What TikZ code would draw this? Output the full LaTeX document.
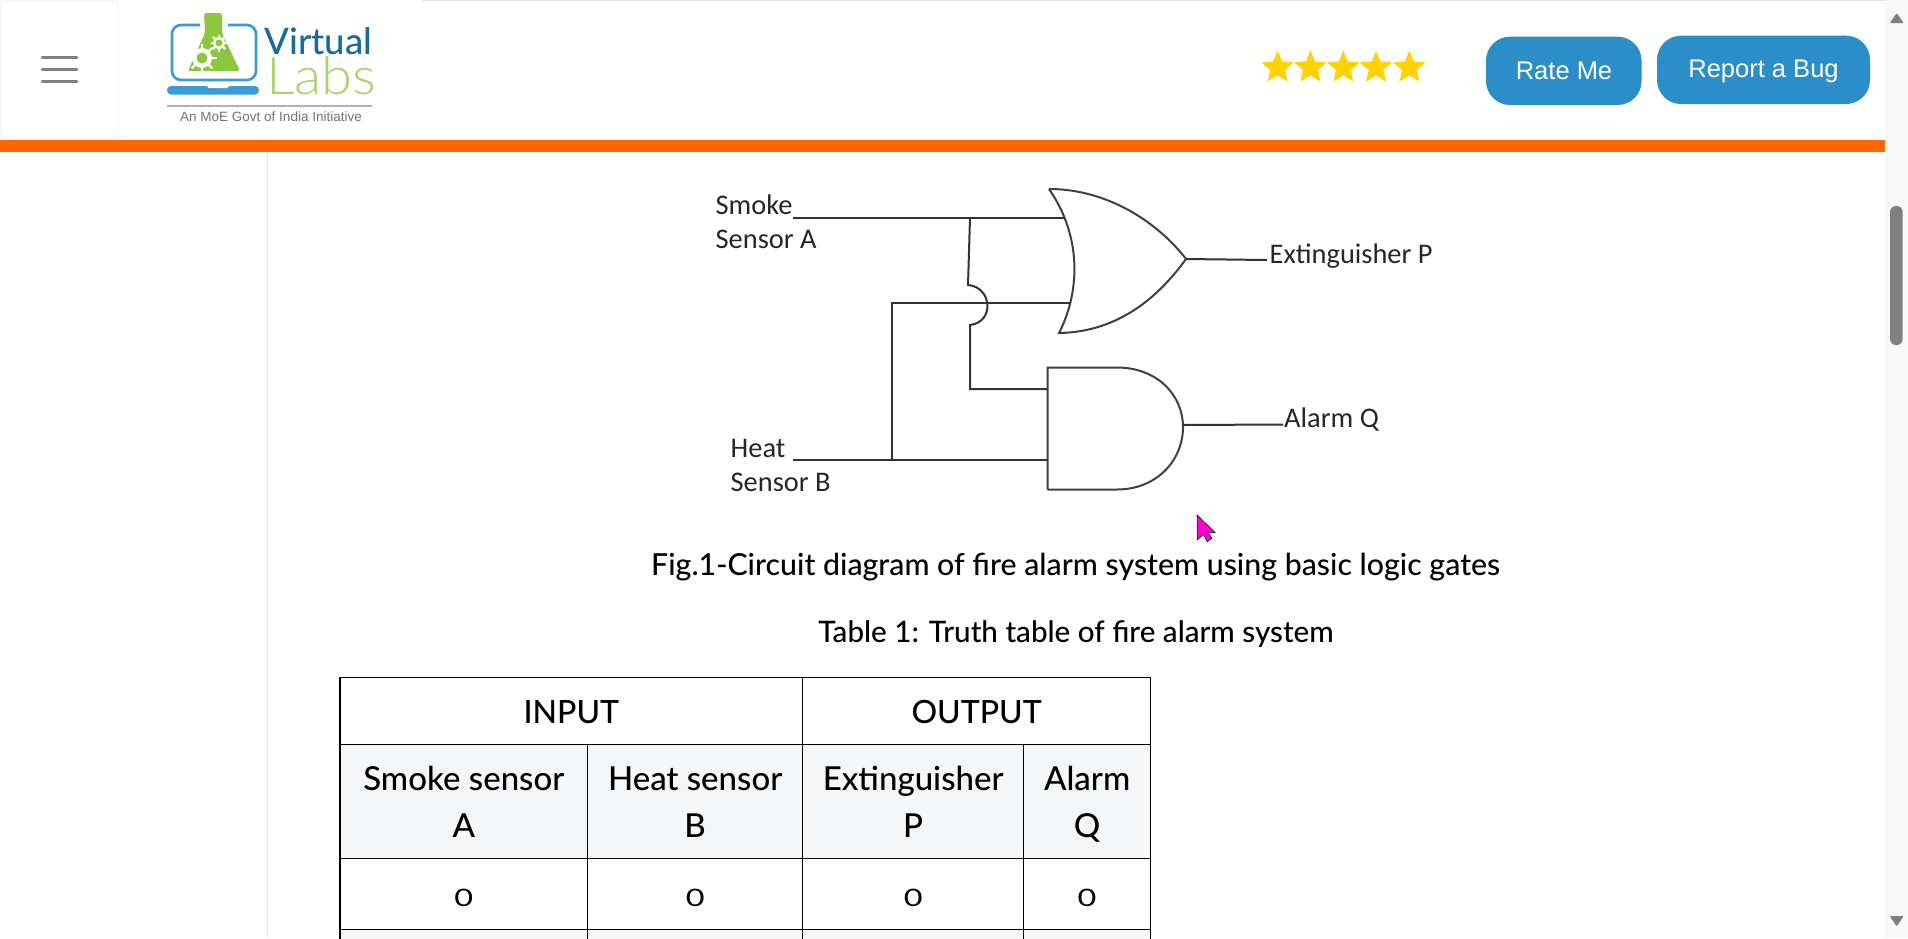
\documentclass[tikz,border=0pt]{standalone}
\usepackage{fontspec}
\setmainfont{Lato Medium}
\newfontfamily\schemfont{Carlito}
\newfontfamily\btnfont{Liberation Sans}
\newfontfamily\thinfont[FakeStretch=1.08]{Lato Light}
\newfontfamily\zerofont[FakeStretch=1.35]{Lato}
\usetikzlibrary{fit,positioning,calc,shapes.geometric}
\definecolor{barorange}{HTML}{FF6600}
\definecolor{btnblue}{HTML}{2B8EC8}
\definecolor{logoblue}{HTML}{3A9BD5}
\definecolor{logodark}{HTML}{1B6A9C}
\definecolor{logogreen}{HTML}{8DC63F}
\definecolor{logolight}{HTML}{A9D46F}
\definecolor{cellgray}{HTML}{F5F6F8}
\definecolor{rulegray}{HTML}{E2E2E2}
\definecolor{scrollgray}{HTML}{808080}
\definecolor{scrollbg}{HTML}{F8F8F8}
\definecolor{stargold}{HTML}{FFD200}
\definecolor{cursorpink}{HTML}{FF00D0}
\tikzset{
  wire/.style={line width=2pt,draw=black!80},
  gate/.style={line width=2pt,draw=black!75},
  schem/.style={inner sep=0pt,anchor=base west,font=\schemfont\fontsize{28.4}{28.4}\selectfont,text=black!85},
  cell/.style={inner sep=0pt,draw=black,line width=1.1pt},
  celltext/.style={align=center,inner sep=0pt,yshift=-1pt,font=\fontsize{33}{47}\selectfont},
  toptext/.style={inner sep=0pt,yshift=-1pt,font=\fontsize{32}{32}\selectfont},
  zerotext/.style={inner sep=0pt,yshift=-4.5pt,font=\zerofont\fontsize{24}{24}\selectfont},
  btn/.style={inner sep=0pt,fill=btnblue,rounded corners=24pt},
  btntext/.style={inner sep=0pt,anchor=base,text=white,font=\btnfont\fontsize{25.5}{25.5}\selectfont},
  burger/.style={line width=2.6pt,draw=scrollgray,line cap=round},
  arrowtri/.style={fill=scrollgray,rounded corners=1pt}
}
\begin{document}
\begin{tikzpicture}[x=1pt,y=-1pt]
  \useasboundingbox[fill=white] (0,0) rectangle (1908,938);

  \node[fit={(1885,0) (1908,938)}, inner sep=0pt, fill=scrollbg] (scrollbg) {};
  \node[fit={(1890,206) (1902.7,345)}, inner sep=0pt, fill=scrollgray, rounded corners=6pt] (thumb) {};
  \fill[arrowtri] (1896.7,13) -- (1903.7,23) -- (1889.7,23) -- cycle;
  \fill[arrowtri] (1896.7,926.5) -- (1903.7,916) -- (1889.7,916) -- cycle;

  \draw[rulegray,line width=1pt] (422,0.5) -- (1885,0.5);
  \node[fit={(0,140) (1885,152)}, inner sep=0pt, fill=barorange] (bar) {};
  \coordinate (railend) at (267,938);
  \draw[rulegray,line width=1pt] (267,152) -- (railend);

  \node[fit={(0.5,0.5) (118,139)}, inner sep=0pt, draw=rulegray, rounded corners=6pt] (menu) {};
  \foreach \i/\y in {a/57.5,b/69.5,c/81.5} {
    \coordinate (bar\i l) at (42,\y); \coordinate (bar\i r) at (77,\y);
    \draw[burger] (bar\i l) -- (bar\i r);
  }

  \draw[logoblue,line width=2.6pt,rounded corners=9pt] (200,25) -- (172,25) -- (172,80) -- (256,80) -- (256,25) -- (228,25);
  \node[fit={(167,86) (259,94.5)}, inner sep=0pt, fill=logoblue, rounded corners=4pt] (laptop) {};
  \fill[white] (206,85.5) -- (230,85.5) -- (227,88) -- (209,88) -- cycle;
  \fill[logogreen,rounded corners=2.5pt] (204,13) -- (222,13) -- (222,33) -- (240,71) -- (188,71) -- (205,33) -- cycle;
  \foreach \cx/\cy/\ra/\rb/\rc in {202/58/10/14.5/5.5, 219/43/6/8.5/3.5} {
    \fill[white] (\cx,\cy) circle[radius=\ra];
    \foreach \a in {0,45,...,315}
      \draw[white,line width=2.4pt] (\cx,\cy) -- +(\a:\rb);
    \fill[logogreen] (\cx,\cy) circle[radius=\rc];
  }
  \node[inner sep=0pt,anchor=base west,text=logodark,font=\fontsize{36.5}{36.5}\selectfont] (virtual) at (264,54) {Virtual};
  \node[inner sep=0pt,anchor=base west,text=logolight,font=\thinfont\fontsize{52}{52}\selectfont] (labs) at (266,94) {Labs};
  \draw[black!30,line width=1.2pt] (167,106) -- (372,106);
  \node[inner sep=0pt,anchor=base,text=black!55,font=\btnfont\fontsize{13.5}{13.5}\selectfont] (moe) at (271,121.5) {An MoE Govt of India Initiative};

  \foreach \i/\x in {1/1277.6,2/1310.4,3/1343.3,4/1376,5/1409.4}
    \node[star,star points=5,star point ratio=2.2,minimum size=34pt,inner sep=0pt,fill=stargold] (star\i) at (\x,67.7) {};

  \node[fit={(1486,36.7) (1641.6,105)}, btn] (rate) {};
  \node[btntext] at (1564,79) {Rate Me};
  \node[fit={(1657,35.7) (1870,104)}, btn] (report) {};
  \node[btntext] at (1763.5,77.7) {Report a Bug};

  \node[schem] (smoke) at (715.5,214) {Smoke};
  \node[schem] (sensa) at (715.5,248.3) {Sensor A};
  \node[schem] (heat) at (730.5,457) {Heat};
  \node[schem] (sensb) at (730.5,491.3) {Sensor B};
  \node[schem] (extP) at (1269.5,263.5) {Extinguisher P};
  \node[schem] (alarmQ) at (1284,427) {Alarm Q};

  \coordinate (orTop) at (1049,189); \coordinate (orTip) at (1186,259); \coordinate (orBot) at (1059,333);
  \coordinate (orA) at (1064.5,217.7); \coordinate (orB) at (1071,303);
  \coordinate (andTop) at (1047.5,367.5); \coordinate (andBot) at (1047.5,489.5); \coordinate (andTip) at (1183,425);
  \coordinate (andA) at (1047.5,389); \coordinate (andB) at (1047.5,460.3);
  \coordinate (inA) at (793,217.7); \coordinate (inB) at (793,460.3);
  \coordinate (tapA) at (970,217.7); \coordinate (tapB) at (892,460.3);
  \coordinate (cornerB) at (892,303); \coordinate (jumpIn) at (968,285); \coordinate (jumpOut) at (970,325);
  \coordinate (cornerA) at (970,389);
  \coordinate (outP) at (1267,260); \coordinate (outQ) at (1283,424.5);

  \draw[gate] (orTop) .. controls (1110,189) and (1160,225) .. (orTip)
    .. controls (1160,295) and (1120,332) .. (orBot)
    .. controls (1081,290) and (1081,235) .. (orTop);
  \draw[gate] (andBot) -- (andTop) -- (1117,367.5) .. controls (1157,367.5) and (1183,395) .. (1183,427)
    .. controls (1183,460) and (1157,489.5) .. (1117,489.5) -- (andBot);

  \draw[wire] (inA) -- (orA);
  \draw[wire] (tapA) -- (jumpIn) .. controls (992,287) and (995,322) .. (jumpOut) -- (cornerA) -- (andA);
  \draw[wire] (inB) -- (andB);
  \draw[wire] (tapB) -- (cornerB) -- (orB);
  \draw[wire] (orTip) -- (outP);
  \draw[wire] (andTip) -- (outQ);

  \node[inner sep=0pt,anchor=base,font=\fontsize{30.3}{30.3}\selectfont] (figcap) at (1075.5,575) {Fig.1-Circuit diagram of fire alarm system using basic logic gates};
  \node[inner sep=0pt,anchor=base,font=\fontsize{29.6}{29.6}\selectfont] (tabcap) at (1076,642) {Table 1: Truth table of fire alarm system};

  \node[fit={(1197.3,515) (1215,541)}, inner sep=0pt] (cursorbox) {};
  \fill[cursorpink,draw=black,line width=0.5pt] (cursorbox.north west) -- (1215,532.5) -- (1208.3,532.5)
    -- (1211.7,538.3) -- (1207.3,541.7) -- (1203.3,534.3) -- (1197.3,540) -- cycle;

  \node[fit={(340,744.3) (1150.5,858.3)}, inner sep=0pt, fill=cellgray] (headfill) {};
  \node[fit={(340,929.3) (1150.5,945)}, inner sep=0pt, fill=cellgray] (lastfill) {};

  \node[fit={(340,677.7) (802.7,744.3)}, cell] (input) {};
  \node[toptext] at (input.center) {INPUT};
  \node[fit={(802.7,677.7) (1150.5,744.3)}, cell] (output) {};
  \node[toptext] at (output.center) {OUTPUT};

  \foreach \n/\xa/\xb/\txt in {smk/340/587.7/{Smoke sensor\\\smash{A}}, hot/587.7/802.7/{Heat sensor\\\smash{B}}, ext/802.7/1023.7/{Extinguisher\\\smash{P}}, alm/1023.7/1150.5/{Alarm\\\smash{Q}}} {
    \node[fit={(\xa,744.3) (\xb,858.3)}, cell] (head\n) {};
    \node[celltext] at (head\n.center) {\txt};
    \node[fit={(\xa,858.3) (\xb,929.3)}, cell] (zero\n) {};
    \node[zerotext] at (zero\n.center) {0};
    \node[fit={(\xa,929.3) (\xb,945)}, cell] (next\n) {};
  }
\end{tikzpicture}
\end{document}
